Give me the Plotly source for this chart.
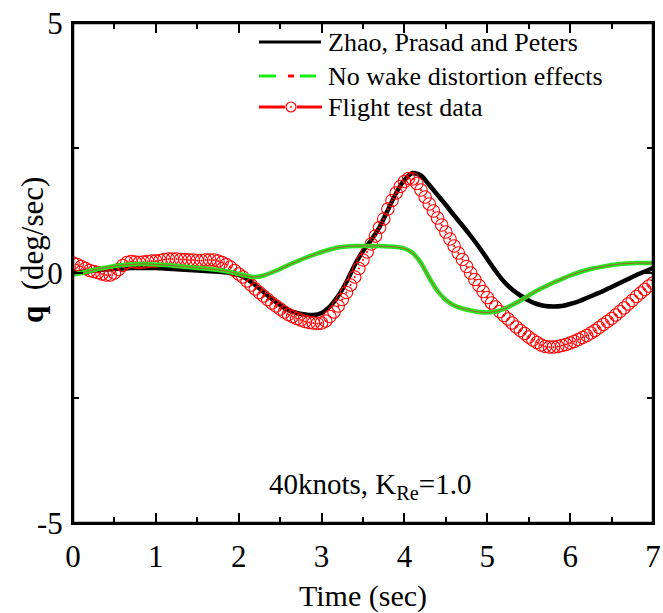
import plotly.graph_objects as go

# ---------------- data ----------------
t_model = [0.0, 0.1, 0.2, 0.3, 0.4, 0.5, 0.6, 0.7, 0.8, 0.9,
           1.0, 1.1, 1.2, 1.3, 1.4, 1.5, 1.6, 1.7, 1.8, 1.9,
           2.0, 2.1, 2.2, 2.3, 2.4, 2.5, 2.6, 2.7, 2.8, 2.9,
           3.0, 3.1, 3.2, 3.3, 3.4, 3.5, 3.6, 3.7, 3.8, 3.9,
           4.0, 4.1, 4.2, 4.3, 4.4, 4.5, 4.6, 4.7, 4.8, 4.9,
           5.0, 5.1, 5.2, 5.3, 5.4, 5.5, 5.6, 5.7, 5.8, 5.9,
           6.0, 6.1, 6.2, 6.3, 6.4, 6.5, 6.6, 6.7, 6.8, 6.9, 7.0]

q_zhao = [0.00, 0.02, 0.04, 0.06, 0.07, 0.08, 0.09, 0.10, 0.10, 0.10,
          0.10, 0.09, 0.08, 0.07, 0.06, 0.05, 0.04, 0.03, 0.02, 0.00,
          -0.04, -0.12, -0.24, -0.38, -0.52, -0.64, -0.74, -0.80, -0.83, -0.84,
          -0.80, -0.67, -0.46, -0.18, 0.16, 0.44, 0.66, 0.92, 1.26, 1.60,
          1.86, 2.00, 1.95, 1.76, 1.56, 1.36, 1.15, 0.95, 0.74, 0.52,
          0.28, 0.04, -0.17, -0.33, -0.45, -0.55, -0.62, -0.66, -0.67, -0.66,
          -0.62, -0.57, -0.50, -0.43, -0.36, -0.28, -0.20, -0.12, -0.04, 0.03, 0.10]

q_nowake = [-0.03, 0.00, 0.04, 0.08, 0.11, 0.14, 0.16, 0.17, 0.18, 0.18,
            0.17, 0.16, 0.15, 0.13, 0.12, 0.10, 0.09, 0.07, 0.05, 0.02,
            -0.02, -0.06, -0.08, -0.05, 0.01, 0.08, 0.16, 0.23, 0.30, 0.36,
            0.42, 0.47, 0.51, 0.53, 0.54, 0.54, 0.54, 0.54, 0.53, 0.52,
            0.49, 0.40, 0.20, -0.10, -0.36, -0.54, -0.65, -0.71, -0.75, -0.78,
            -0.79, -0.77, -0.72, -0.64, -0.55, -0.45, -0.35, -0.27, -0.19, -0.12,
            -0.05, 0.01, 0.06, 0.10, 0.13, 0.16, 0.18, 0.19, 0.20, 0.20, 0.20]

t_flight = [0.00, 0.05, 0.10, 0.15, 0.20, 0.25, 0.30, 0.35, 0.40, 0.45,
            0.50, 0.55, 0.60, 0.65, 0.70, 0.75, 0.80, 0.85, 0.90, 0.95,
            1.00, 1.05, 1.10, 1.15, 1.20, 1.25, 1.30, 1.35, 1.40, 1.45,
            1.50, 1.55, 1.60, 1.65, 1.70, 1.75, 1.80, 1.85, 1.90, 1.95,
            2.00, 2.05, 2.10, 2.15, 2.20, 2.25, 2.30, 2.35, 2.40, 2.45,
            2.50, 2.55, 2.60, 2.65, 2.70, 2.75, 2.80, 2.85, 2.90, 2.95,
            3.00, 3.05, 3.10, 3.15, 3.20, 3.25, 3.30, 3.35, 3.40, 3.45,
            3.50, 3.55, 3.60, 3.65, 3.70, 3.75, 3.80, 3.85, 3.90, 3.95,
            4.00, 4.05, 4.10, 4.15, 4.20, 4.25, 4.30, 4.35, 4.40, 4.45,
            4.50, 4.55, 4.60, 4.65, 4.70, 4.75, 4.80, 4.85, 4.90, 4.95,
            5.00, 5.05, 5.10, 5.15, 5.20, 5.25, 5.30, 5.35, 5.40, 5.45,
            5.50, 5.55, 5.60, 5.65, 5.70, 5.75, 5.80, 5.85, 5.90, 5.95,
            6.00, 6.05, 6.10, 6.15, 6.20, 6.25, 6.30, 6.35, 6.40, 6.45,
            6.50, 6.55, 6.60, 6.65, 6.70, 6.75, 6.80, 6.85, 6.90, 6.95, 7.00]

q_flight = [0.20, 0.17, 0.13, 0.09, 0.05, 0.03, 0.01, -0.02, -0.04, -0.04,
            0.00, 0.07, 0.15, 0.21, 0.23, 0.22, 0.21, 0.22, 0.23, 0.24,
            0.24, 0.25, 0.27, 0.28, 0.28, 0.28, 0.27, 0.27, 0.26, 0.26,
            0.25, 0.25, 0.26, 0.26, 0.26, 0.24, 0.21, 0.17, 0.12, 0.05,
            -0.02, -0.08, -0.16, -0.24, -0.32, -0.39, -0.46, -0.53, -0.60, -0.66,
            -0.72, -0.78, -0.83, -0.87, -0.91, -0.94, -0.97, -0.99, -1.00, -1.01,
            -1.00, -0.96, -0.87, -0.78, -0.66, -0.53, -0.39, -0.24, -0.08, 0.09,
            0.26, 0.42, 0.58, 0.74, 0.91, 1.08, 1.28, 1.45, 1.60, 1.73,
            1.83, 1.89, 1.88, 1.79, 1.66, 1.52, 1.38, 1.24, 1.10, 0.96,
            0.82, 0.68, 0.54, 0.40, 0.27, 0.13, 0.00, -0.13, -0.25, -0.37,
            -0.49, -0.60, -0.68, -0.77, -0.85, -0.92, -1.00, -1.08, -1.15, -1.21,
            -1.28, -1.34, -1.39, -1.44, -1.47, -1.48, -1.48, -1.47, -1.45, -1.43,
            -1.40, -1.37, -1.33, -1.29, -1.25, -1.20, -1.15, -1.09, -1.03, -0.97,
            -0.91, -0.84, -0.77, -0.70, -0.62, -0.55, -0.47, -0.40, -0.33, -0.26, -0.20]

x_ticks = [0, 1, 2, 3, 4, 5, 6, 7]
y_ticks = [-5, 0, 5]
legend_names = ["Zhao, Prasad and Peters", "No wake distortion effects", "Flight test data"]

FONT = "Liberation Serif, Times New Roman, serif"
W, H = 663, 613
ML, MR, MT, MB = 73, 10, 23, 90
PW, PH = W - ML - MR, H - MT - MB


def px(xp):
    return (xp - ML) / PW


def py(yp):
    return (H - MB - yp) / PH


fig = go.Figure()
fig.add_trace(go.Scatter(x=t_model, y=q_zhao, mode="lines",
                         line=dict(color="black", width=4.5, shape="spline", smoothing=0.6),
                         showlegend=False))
fig.add_trace(go.Scatter(x=t_flight, y=q_flight, mode="markers",
                         marker=dict(symbol="circle-open-dot", size=12.5, color="red",
                                     line=dict(color="red", width=1.1)),
                         showlegend=False))
fig.add_trace(go.Scatter(x=t_model, y=q_nowake, mode="lines",
                         line=dict(color="#22e622", width=4.5, shape="spline", smoothing=0.6),
                         showlegend=False))
fig.add_trace(go.Scatter(x=t_model, y=q_nowake, mode="lines",
                         line=dict(color="#e03030", width=0.8, shape="spline", smoothing=0.6),
                         showlegend=False))

shapes = []
annotations = []
# plot frame
shapes.append(dict(type="rect", xref="paper", yref="paper", x0=0, x1=1, y0=0, y1=1,
                   line=dict(color="black", width=2.5), layer="above"))
# manual legend
rows_y = [42, 76, 107]
shapes.append(dict(type="line", xref="paper", yref="paper", x0=px(259), x1=px(321),
                   y0=py(rows_y[0]), y1=py(rows_y[0]), line=dict(color="black", width=3)))
shapes.append(dict(type="line", xref="paper", yref="paper", x0=px(259), x1=px(276),
                   y0=py(rows_y[1]), y1=py(rows_y[1]), line=dict(color="#11ee11", width=3)))
shapes.append(dict(type="line", xref="paper", yref="paper", x0=px(288), x1=px(294),
                   y0=py(rows_y[1]), y1=py(rows_y[1]), line=dict(color="red", width=3)))
shapes.append(dict(type="line", xref="paper", yref="paper", x0=px(300), x1=px(316),
                   y0=py(rows_y[1]), y1=py(rows_y[1]), line=dict(color="#11ee11", width=3)))
shapes.append(dict(type="line", xref="paper", yref="paper", x0=px(259), x1=px(285),
                   y0=py(rows_y[2]), y1=py(rows_y[2]), line=dict(color="red", width=3)))
shapes.append(dict(type="line", xref="paper", yref="paper", x0=px(297), x1=px(322),
                   y0=py(rows_y[2]), y1=py(rows_y[2]), line=dict(color="red", width=3)))
shapes.append(dict(type="circle", xref="paper", yref="paper", x0=px(286), x1=px(296),
                   y0=py(rows_y[2] + 5), y1=py(rows_y[2] - 5), line=dict(color="red", width=1.2)))
shapes.append(dict(type="circle", xref="paper", yref="paper", x0=px(290.3), x1=px(291.7),
                   y0=py(rows_y[2] + 0.7), y1=py(rows_y[2] - 0.7), fillcolor="red",
                   line=dict(color="red", width=0.5)))
for name, yy in zip(legend_names, rows_y):
    annotations.append(dict(xref="paper", yref="paper", x=px(326), y=py(yy), text=name,
                            showarrow=False, xanchor="left", yanchor="middle",
                            font=dict(family=FONT, size=26, color="black")))

annotations.append(dict(xref="paper", yref="paper", x=px(370), y=py(486),
                        text="40knots, K<sub>Re</sub>=1.0", showarrow=False,
                        xanchor="center", yanchor="middle",
                        font=dict(family=FONT, size=29, color="black")))
annotations.append(dict(xref="paper", yref="paper", x=px(33), y=py(250),
                        text="<b>q</b>  (deg/sec)", textangle=-90, showarrow=False,
                        xanchor="center", yanchor="middle",
                        font=dict(family=FONT, size=31, color="black")))

fig.update_layout(
    width=W, height=H,
    margin=dict(l=ML, r=MR, t=MT, b=MB, autoexpand=False),
    paper_bgcolor="white", plot_bgcolor="white",
    font=dict(family=FONT, size=30, color="black"),
    shapes=shapes, annotations=annotations,
    showlegend=False,
)
fig.update_xaxes(range=[0, 7], tickvals=x_ticks, ticktext=[str(v) for v in x_ticks],
                 ticks="inside", ticklen=10, tickwidth=1.5, tickcolor="black",
                 minor=dict(tickvals=[0.5, 1.5, 2.5, 3.5, 4.5, 5.5, 6.5], ticks="inside",
                            ticklen=6, tickwidth=1.5, tickcolor="black"),
                 showline=True, linecolor="black", linewidth=2, mirror="ticks",
                 showgrid=False, zeroline=False, ticklabelstandoff=5, automargin=False,
                 tickfont=dict(family=FONT, size=31),
                 title=dict(text="Time (sec)", font=dict(family=FONT, size=30), standoff=12))
fig.update_yaxes(range=[-5, 5], tickvals=y_ticks, ticktext=[str(v) for v in y_ticks],
                 ticks="inside", ticklen=10, tickwidth=1.5, tickcolor="black",
                 minor=dict(tickvals=[-2.5, 2.5], ticks="inside",
                            ticklen=6, tickwidth=1.5, tickcolor="black"),
                 showline=True, linecolor="black", linewidth=2, mirror="ticks",
                 showgrid=False, zeroline=False, ticklabelstandoff=2, automargin=False,
                 tickfont=dict(family=FONT, size=31))

fig.write_html("out.html",
               config={"displayModeBar": False},
               post_script="document.body.style.margin='0';"
                           "document.documentElement.style.overflow='hidden';"
                           "document.body.style.overflow='hidden';")
